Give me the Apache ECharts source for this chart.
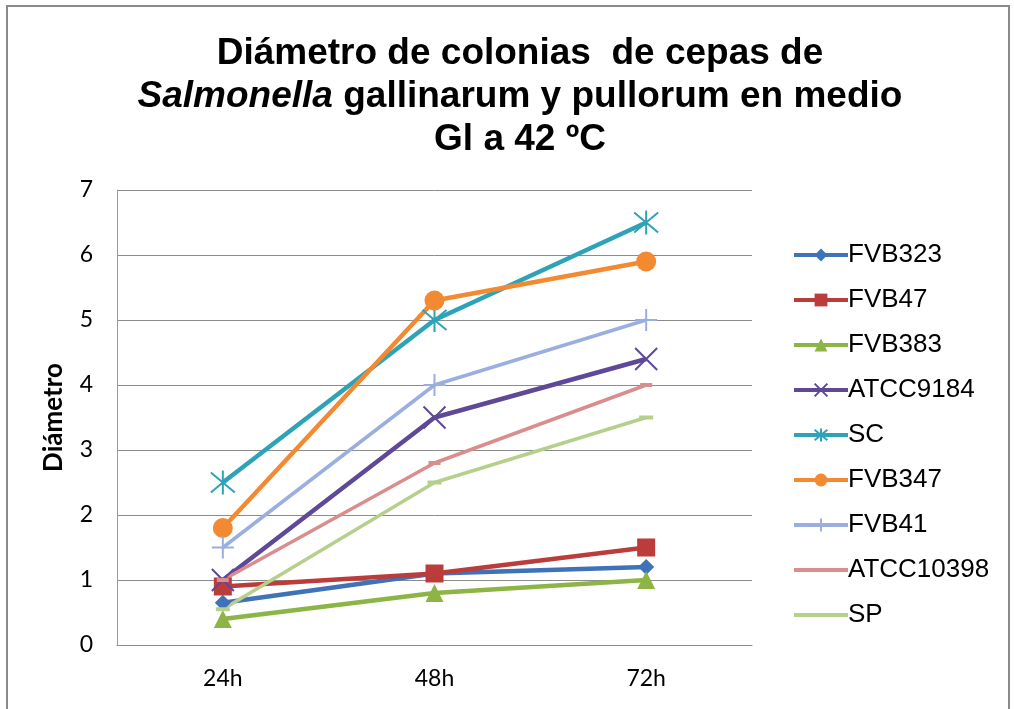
<!DOCTYPE html>
<html>
<head>
<meta charset="utf-8">
<script src="https://cdn.jsdelivr.net/npm/echarts@6/dist/echarts.min.js"></script>
<style>
  html, body { margin: 0; padding: 0; background: #fff; }
  #main { width: 1014px; height: 709px; }
</style>
</head>
<body>
<div id="main"></div>
<script>
const categories = ['24h', '48h', '72h']
const yTicks = [0, 1, 2, 3, 4, 5, 6, 7]

const fvb323 = [0.65, 1.1, 1.2]
const fvb47 = [0.9, 1.1, 1.5]
const fvb383 = [0.4, 0.8, 1.0]
const atcc9184 = [1.0, 3.5, 4.4]
const sc = [2.5, 5.0, 6.5]
const fvb347 = [1.8, 5.3, 5.9]
const fvb41 = [1.5, 4.0, 5.0]
const atcc10398 = [1.0, 2.8, 4.0]
const sp = [0.55, 2.5, 3.5]

const chart = echarts.init(document.getElementById('main'))

// marcadores de trazo (x, asterisco, cruz)
const xPath = 'path://M0,0L10,10M10,0L0,10'
const starPath = 'path://M0,0L10,10M10,0L0,10M5,-1L5,11'
const plusPath = 'path://M5,0L5,10M0,5L10,5'

function serie(name, data, color, symbol, size, width, stroked) {
  return {
    name: name,
    type: 'line',
    data: data,
    symbol: symbol,
    symbolSize: size,
    lineStyle: { color: color, width: width },
    itemStyle: stroked
      ? { color: 'rgba(0,0,0,0)', borderColor: color, borderWidth: 2 }
      : { color: color },
    emphasis: { disabled: true }
  }
}

const option = {
  backgroundColor: '#fff',
  animation: false,
  title: {
    text: 'Diámetro de colonias  de cepas de\n{i|Salmonella} gallinarum y pullorum en medio\nGl a 42 ºC',
    left: 515,
    top: 27,
    textAlign: 'center',
    textStyle: {
      fontFamily: 'Liberation Sans, Arial, sans-serif',
      fontSize: 37,
      fontWeight: 'bold',
      color: '#000',
      lineHeight: 43,
      rich: {
        i: {
          fontFamily: 'Liberation Sans, Arial, sans-serif',
          fontSize: 37,
          fontWeight: 'bold',
          fontStyle: 'italic',
          color: '#000',
          lineHeight: 43
        }
      }
    }
  },
  graphic: [
    {
      type: 'rect',
      shape: { x: 7, y: 6, width: 1002, height: 720 },
      style: { fill: 'none', stroke: '#8a8a8a', lineWidth: 2 },
      silent: true
    }
  ],
  legend: {
    orient: 'vertical',
    left: 787,
    top: 237,
    itemWidth: 54,
    itemHeight: 16,
    itemGap: 19,
    lineStyle: { width: 4 },
    data: [
      'FVB323', 'FVB47', 'FVB383', 'ATCC9184', 'SC', 'FVB347', 'FVB41',
      { name: 'ATCC10398', itemStyle: { opacity: 0 } },
      { name: 'SP', itemStyle: { opacity: 0 } }
    ],
    textStyle: {
      fontFamily: 'Liberation Sans, Arial, sans-serif',
      fontSize: 26,
      color: '#000',
      padding: [0, 0, 0, -5]
    }
  },
  grid: {
    left: 117,
    right: 262,
    top: 190,
    bottom: 64
  },
  xAxis: {
    type: 'category',
    data: categories,
    boundaryGap: true,
    axisLine: { show: true, lineStyle: { color: '#8c8c8c', width: 1 } },
    axisTick: { show: false },
    axisLabel: {
      fontFamily: 'Lato, sans-serif',
      fontSize: 23,
      color: '#000',
      margin: 22
    }
  },
  yAxis: {
    type: 'value',
    min: yTicks[0],
    max: yTicks[yTicks.length - 1],
    interval: 1,
    name: 'Diámetro',
    nameLocation: 'middle',
    nameGap: 50,
    nameTextStyle: {
      fontFamily: 'Lato, sans-serif',
      fontSize: 26,
      fontWeight: 'bold',
      color: '#000'
    },
    axisLine: { show: true, lineStyle: { color: '#9a9a9a', width: 1 } },
    axisTick: { show: false },
    splitLine: { lineStyle: { color: '#8c8c8c', width: 1 } },
    axisLabel: {
      fontFamily: 'Lato, sans-serif',
      fontSize: 23,
      color: '#000',
      margin: 24
    }
  },
  series: [
    serie('FVB323', fvb323, '#3f72b8', 'diamond', 16, 4.5, false),
    serie('FVB47', fvb47, '#bb3d3b', 'rect', 18, 4.5, false),
    serie('FVB383', fvb383, '#8cb545', 'triangle', 18, 4.5, false),
    serie('ATCC9184', atcc9184, '#5e4897', xPath, 22, 4.5, true),
    serie('SC', sc, '#2ea3b8', starPath, 24, 4.5, true),
    serie('FVB347', fvb347, '#f38a31', 'circle', 20, 4.5, false),
    serie('FVB41', fvb41, '#9aaedf', plusPath, 22, 3.5, true),
    serie('ATCC10398', atcc10398, '#d98d8d', 'rect', [12, 4], 3.5, false),
    serie('SP', sp, '#b6d08c', 'rect', [14, 4], 3.5, false)
  ]
}

chart.setOption(option)
</script>
</body>
</html>
